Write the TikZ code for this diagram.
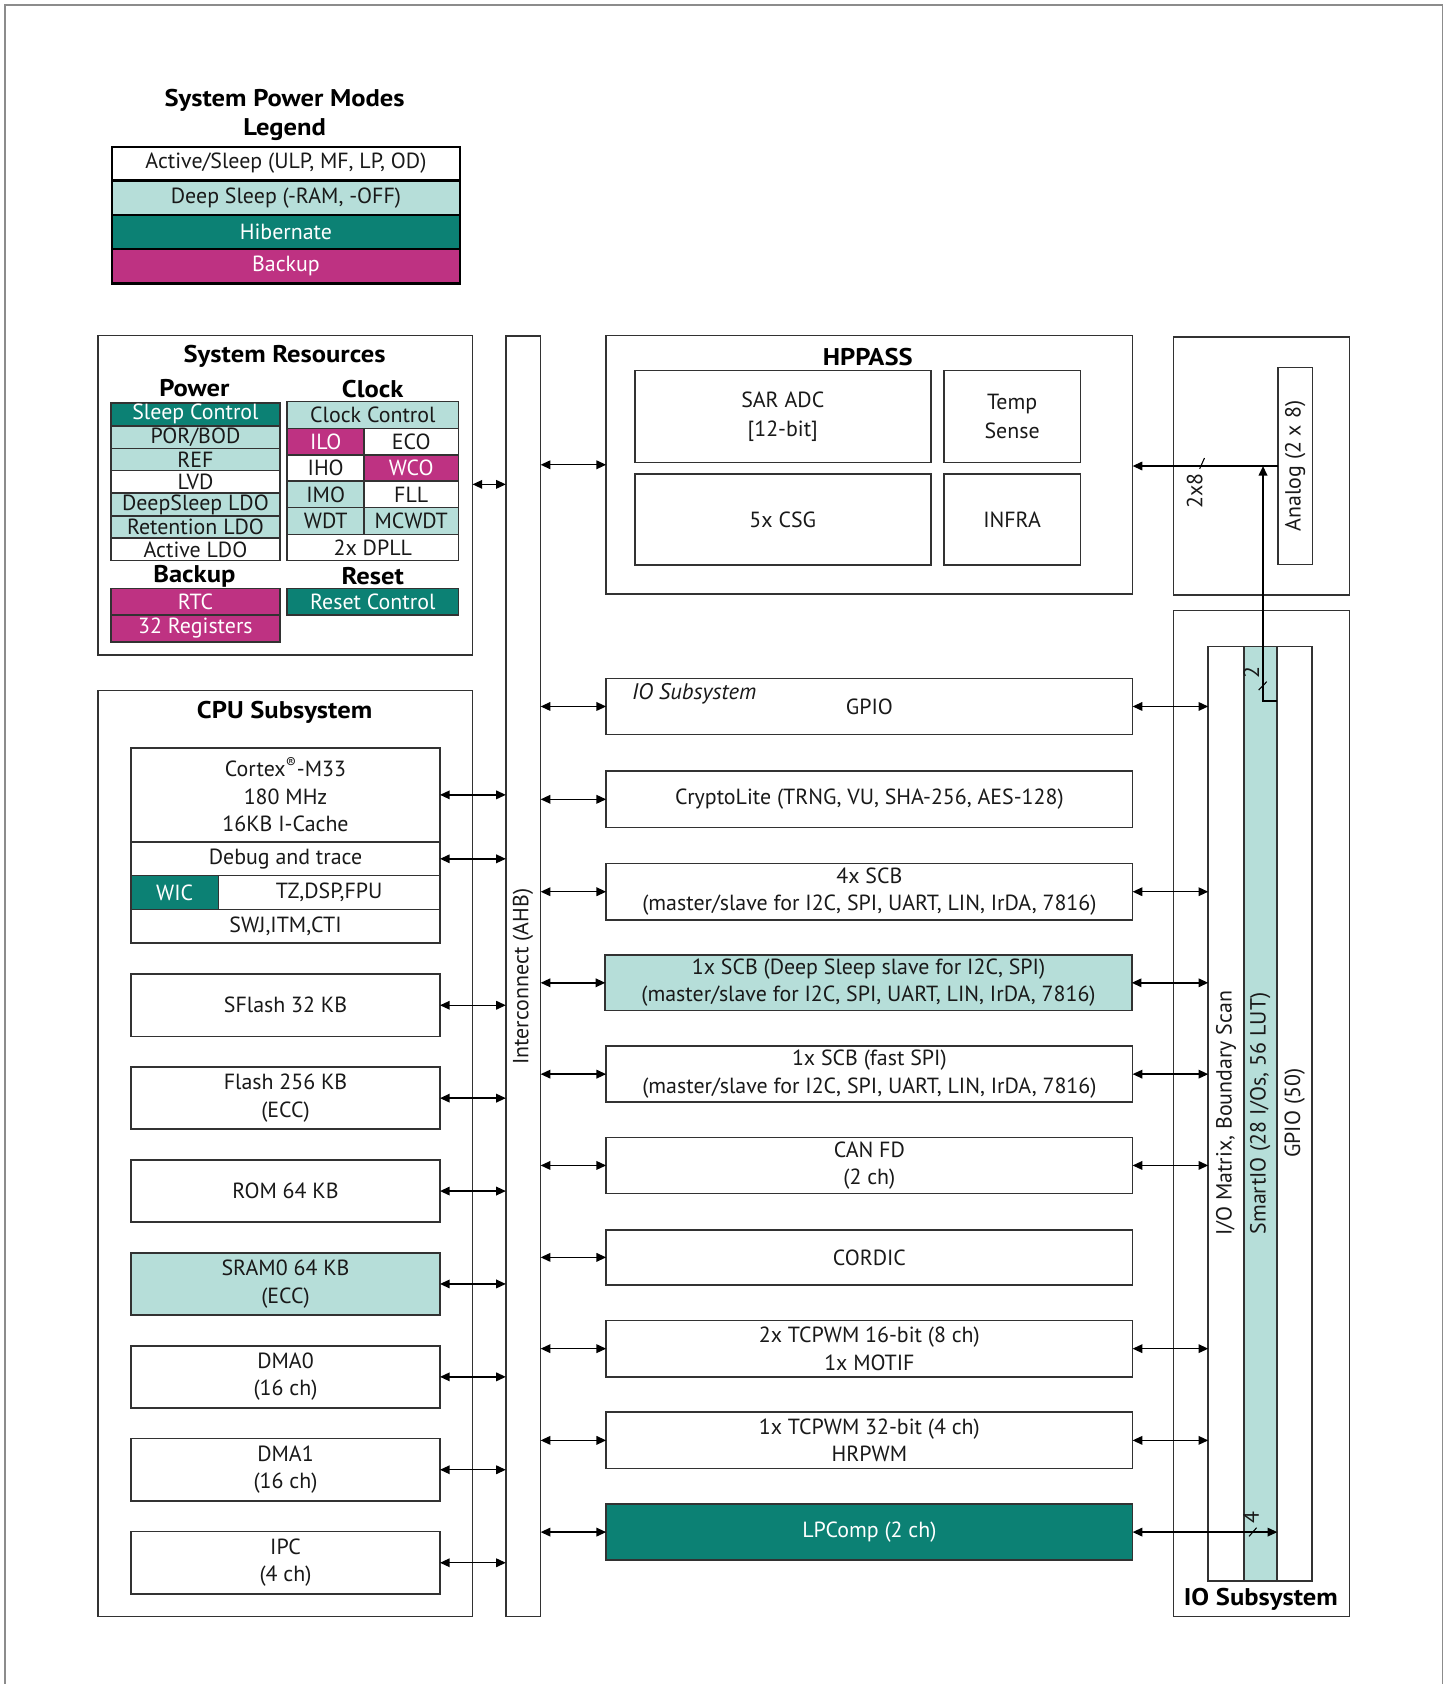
\documentclass[tikz,border=0pt]{standalone}
\usepackage{fontspec}
\setmainfont{PT Sans}[BoldFeatures={FakeStretch=1.1}]
\usetikzlibrary{arrows.meta,calc}
\definecolor{lt}{RGB}{182,222,217}
\definecolor{tl}{RGB}{12,129,116}
\definecolor{mg}{RGB}{190,50,130}
\definecolor{lc}{RGB}{50,50,50}
\definecolor{txc}{RGB}{25,25,25}
\definecolor{frc}{RGB}{140,140,140}
\newcommand\myfs{\fontsize{20.4pt}{25.5pt}\selectfont}
\newcommand\mybf{\fontsize{22.5pt}{28pt}\selectfont\bfseries}
\newcommand\bx[7]{\node[bx,#6,minimum width={#4-#2},minimum height={#5-#3}] (#1) at ({(#2+#4)/2},{(#3+#5)/2}) {#7};}
\begin{document}
\begin{tikzpicture}[x=1pt,y=-1pt,
  bx/.style={draw=lc,line width=1.5pt,inner sep=0pt,outer sep=0pt,align=center,font=\myfs,text=txc},
  wh/.style={fill=white},
  ltf/.style={fill=lt},
  tlf/.style={fill=tl,text=white},
  mgf/.style={fill=mg,text=white},
  lgd/.style={draw=black,line width=2pt},
  tx/.style={inner sep=0pt,outer sep=0pt,font=\myfs,text=txc,align=center},
  ttl/.style={inner sep=0pt,outer sep=0pt,font=\mybf,text=black,align=center},
  dar/.style={{Triangle[length=9pt,width=8pt]}-{Triangle[length=9pt,width=8pt]},line width=1.3pt,draw=black},
  sar/.style={-{Triangle[length=9pt,width=8pt]},line width=1.3pt,draw=black},
  slash/.style={line width=1pt,draw=black}]
\useasboundingbox (0,0) rectangle (1350,1568);
\fill[white] (0,0) rectangle (1350,1568);
% frame
\draw[frc,line width=1.4pt] (4.5,1568) -- (4.5,4.5) -- (1343.3,4.5) -- (1343.3,1568);

% legend
\node[ttl] (lgt1) at (265,93) {System Power Modes};
\node[ttl] (lgt2) at (265,121) {Legend};
\bx{lg1}{104}{136.5}{428.5}{168}{wh,lgd}{Active/Sleep (ULP, MF, LP, OD)}
\bx{lg2}{104}{168}{428.5}{200}{ltf,lgd}{Deep Sleep (-RAM, -OFF)}
\bx{lg3}{104}{200}{428.5}{231.5}{tlf,lgd}{Hibernate}
\bx{lg4}{104}{231.5}{428.5}{264}{mgf,lgd}{Backup}

% system resources
\bx{sr}{91.5}{312.5}{440}{610}{wh}{}
\node[ttl] (srt) at (265,332) {System Resources};
\node[ttl] (pwt) at (181,361.5) {Power};
\node[ttl] (ckt) at (347,362.5) {Clock};
\bx{p1}{103.5}{375}{260.5}{396.6}{tlf}{Sleep Control}
\bx{p2}{103.5}{396.6}{260.5}{417.7}{ltf}{POR/BOD}
\bx{p3}{103.5}{417.7}{260.5}{438.2}{ltf}{REF}
\bx{p4}{103.5}{438.2}{260.5}{459.3}{wh}{LVD}
\bx{p5}{103.5}{459.3}{260.5}{480.4}{ltf}{DeepSleep LDO}
\bx{p6}{103.5}{480.4}{260.5}{501.2}{ltf}{Retention LDO}
\bx{p7}{103.5}{501.2}{260.5}{522}{wh}{Active LDO}
\bx{c1}{267.5}{374}{426.8}{398.8}{ltf}{Clock Control}
\bx{c2}{267.5}{398.8}{339}{423.4}{mgf}{ILO}
\bx{c3}{339}{398.8}{426.8}{423.4}{wh}{ECO}
\bx{c4}{267.5}{423.4}{339}{447.9}{wh}{IHO}
\bx{c5}{339}{423.4}{426.8}{447.9}{mgf}{WCO}
\bx{c6}{267.5}{447.9}{339}{472.7}{ltf}{IMO}
\bx{c7}{339}{447.9}{426.8}{472.7}{wh}{FLL}
\bx{c8}{267.5}{472.7}{339}{497.5}{ltf}{WDT}
\bx{c9}{339}{472.7}{426.8}{497.5}{ltf}{MCWDT}
\bx{c10}{267.5}{497.5}{426.8}{522}{wh}{2x DPLL}
\node[ttl] (bkt) at (181,536.5) {Backup};
\node[ttl] (rst) at (347,536.5) {Reset};
\bx{rtc}{103.5}{548}{260.5}{572.6}{mgf}{RTC}
\bx{reg}{103.5}{572.6}{260.5}{597.8}{mgf}{32 Registers}
\bx{rsc}{267.5}{548}{426.8}{572.6}{tlf}{Reset Control}

% interconnect
\bx{ic}{471}{313}{503.4}{1505}{wh}{}
\node[tx,rotate=90] (ict) at (487,909.5) {Interconnect (AHB)};

% CPU subsystem
\bx{cpu}{91.5}{643}{440}{1505}{wh}{}
\node[ttl] (cput) at (265,663) {CPU Subsystem};
\bx{cortex}{122}{696.2}{409.7}{784}{wh}{Cortex\textsuperscript{®}-M33\\180 MHz\\16KB I-Cache}
\bx{dbg}{122}{784}{409.7}{815.3}{wh}{Debug and trace}
\bx{wic}{122}{815.3}{203.3}{846.7}{tlf}{WIC}
\bx{tz}{203.3}{815.3}{409.7}{846.7}{wh}{TZ,DSP,FPU}
\bx{swj}{122}{846.7}{409.7}{878.3}{wh}{SWJ,ITM,CTI}
\bx{sfl}{122}{907}{409.7}{965}{wh}{SFlash 32 KB}
\bx{fl}{122}{993.5}{409.7}{1051.5}{wh}{Flash 256 KB\\(ECC)}
\bx{rom}{122}{1080}{409.7}{1138}{wh}{ROM 64 KB}
\bx{sram}{122}{1166.5}{409.7}{1224.5}{ltf}{SRAM0 64 KB\\(ECC)}
\bx{dma0}{122}{1253}{409.7}{1311}{wh}{DMA0\\(16 ch)}
\bx{dma1}{122}{1339.5}{409.7}{1397.5}{wh}{DMA1\\(16 ch)}
\bx{ipc}{122}{1426}{409.7}{1484.2}{wh}{IPC\\(4 ch)}

% HPPASS
\bx{hp}{564.4}{312.5}{1054.6}{553}{wh}{}
\node[ttl] (hpt) at (808,332) {HPPASS};
\bx{sar}{591}{345.1}{866.7}{430.8}{wh}{SAR ADC\\[2pt][12-bit]}
\bx{tmp}{878.8}{345.1}{1006}{430.8}{wh}{Temp\\[2pt]Sense}
\bx{csg}{591}{441.3}{866.7}{526}{wh}{5x CSG}
\bx{inf}{878.8}{441.3}{1006}{526}{wh}{INFRA}

% analog box
\bx{ana}{1092.5}{314}{1256.4}{554}{wh}{}
\bx{analog}{1190.2}{342.3}{1221.9}{525.5}{wh}{}
\node[tx,rotate=90] (anat) at (1206,434) {Analog (2 x 8)};

% IO subsystem
\bx{io}{1092.5}{568.6}{1256.4}{1505.3}{wh}{}
\bx{iomx}{1125}{601.8}{1158.3}{1472}{wh}{}
\bx{smio}{1158.3}{601.8}{1189.3}{1472}{ltf}{}
\bx{gpc}{1189.3}{601.8}{1221.6}{1472}{wh}{}
\node[tx,rotate=90] (iomxt) at (1141.5,1036.5) {I/O Matrix, Boundary Scan};
\node[tx,rotate=90] (smiot) at (1173.5,1036.5) {SmartIO (28 I/Os, 56 LUT)};
\node[tx,rotate=90] (gpct) at (1205.5,1036.5) {GPIO (50)};
\node[ttl] (iot) at (1174,1489.5) {IO Subsystem};

% peripherals
\bx{gpio}{564.4}{631.6}{1054.6}{684}{wh}{GPIO}
\node[tx,anchor=west,font=\fontsize{21pt}{26pt}\selectfont\itshape] (gpioi) at (588.5,646) {IO Subsystem};
\bx{cry}{564.4}{718}{1054.6}{770.5}{wh}{CryptoLite (TRNG, VU, SHA-256, AES-128)}
\bx{scba}{564.4}{804}{1054.6}{856.6}{wh}{4x SCB\\(master/slave for I2C, SPI, UART, LIN, IrDA, 7816)}
\bx{scbb}{563.6}{889.2}{1053.8}{941}{ltf}{1x SCB (Deep Sleep slave for I2C, SPI)\\(master/slave for I2C, SPI, UART, LIN, IrDA, 7816)}
\bx{scbc}{564.4}{974}{1054.6}{1026.3}{wh}{1x SCB (fast SPI)\\(master/slave for I2C, SPI, UART, LIN, IrDA, 7816)}
\bx{can}{564.4}{1059}{1054.6}{1111.3}{wh}{CAN FD\\(2 ch)}
\bx{cor}{564.4}{1145}{1054.6}{1196.5}{wh}{CORDIC}
\bx{tca}{564.4}{1229.5}{1054.6}{1282}{wh}{2x TCPWM 16-bit (8 ch)\\1x MOTIF}
\bx{tcb}{564.4}{1315}{1054.6}{1367.3}{wh}{1x TCPWM 32-bit (4 ch)\\HRPWM}
\bx{lp}{564.4}{1400.6}{1054.6}{1452.5}{tlf}{LPComp (2 ch)}

% arrows: system resources / CPU to interconnect
\coordinate (yA) at (0,451);
\draw[dar] (sr.east |- yA) -- (ic.west |- yA);
\draw[dar] (cortex.east) -- (cortex.east -| ic.west);
\draw[dar] (dbg.east) -- (dbg.east -| ic.west);
\foreach \n in {sfl,fl,rom,sram,dma0,dma1,ipc}{
  \draw[dar] (\n.east) -- (\n.east -| ic.west);
}
% interconnect to peripherals
\draw[dar] (ic.east |- hp.west) -- (hp.west);
\foreach \n in {gpio,cry,scba,scbb,scbc,can,cor,tca,tcb,lp}{
  \draw[dar] (ic.east |- \n.west) -- (\n.west);
}
% peripherals to IO matrix
\foreach \n in {gpio,scba,scbb,scbc,can,tca,tcb}{
  \draw[dar] (\n.east) -- (\n.east -| iomx.west);
}
\draw[dar] (lp.east) -- (lp.east -| smio.east);
\draw[slash] (1163,1430.5) -- (1170,1422.5);
\node[tx,rotate=90] (lb4) at (1165,1413) {4};

% analog to HPPASS
\draw[sar] (analog.west) -- (analog.west -| hp.east);
\draw[slash] (1117,436.5) -- (1121.5,426.5);
\node[tx,rotate=90] (lb28) at (1112.5,457) {2x8};
\coordinate (kn) at (1176,653);
\draw[sar,line width=1.8pt] (smio.east |- kn) -- (kn) -- (kn |- analog.west);
\draw[slash] (1172,642.5) -- (1179.5,634.7);
\node[tx,rotate=90] (lb2) at (1165,626) {2};
\end{tikzpicture}
\end{document}
